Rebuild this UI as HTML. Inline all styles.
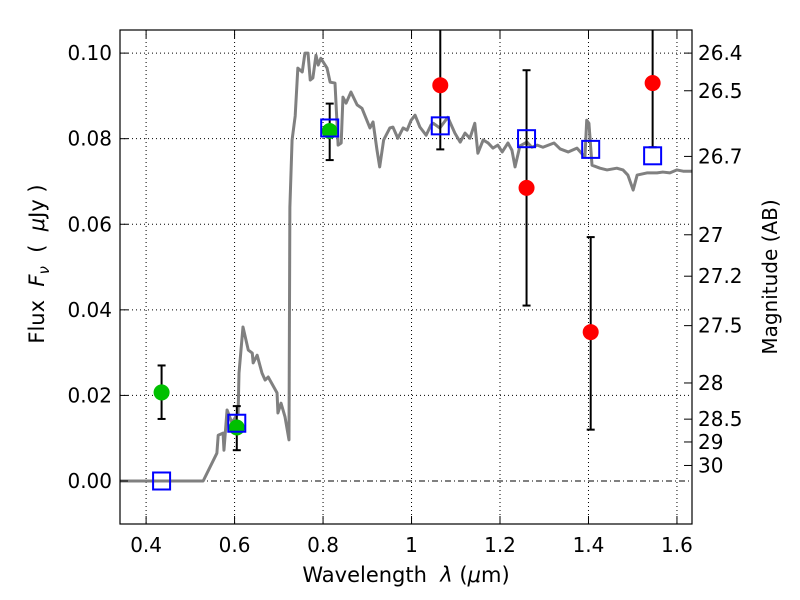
<!DOCTYPE html>
<html><head><meta charset="utf-8"><style>
body{margin:0;background:#fff;}
svg{display:block;font-family:"DejaVu Sans","Liberation Sans",sans-serif;}
</style></head><body>
<svg id="chart" width="800" height="600">
<g id="grid"></g>
<g id="spec"></g>
<g id="marks"></g>
<g id="axes"></g>
<text x="406" y="582" font-size="21" text-anchor="middle">Wavelength&#160;&#160;<tspan font-style="italic">λ</tspan> (<tspan font-style="italic">μ</tspan>m)</text>
<text transform="translate(44,264) rotate(-90)" font-size="21" text-anchor="middle">Flux&#160;&#160;<tspan font-style="italic">F</tspan><tspan font-style="italic" font-size="15" dy="5">ν</tspan><tspan dy="-5">&#160;&#160;(&#160;&#160;</tspan><tspan font-style="italic">μ</tspan>Jy )</text>
<text transform="translate(777,277) rotate(-90)" font-size="20" text-anchor="middle">Magnitude (AB)</text>
</svg>
<script>
const specX=[0.34,0.499,0.529,0.560,0.563,0.574,0.576,0.583,0.594,0.608,0.610,0.619,0.631,0.640,0.642,0.651,0.662,0.669,0.676,0.696,0.698,0.705,0.714,0.723,0.725,0.730,0.737,0.743,0.753,0.759,0.766,0.771,0.777,0.784,0.789,0.795,0.809,0.816,0.827,0.832,0.834,0.841,0.845,0.852,0.863,0.877,0.888,0.899,0.906,0.913,0.922,0.928,0.937,0.951,0.958,0.969,0.981,0.990,0.999,1.008,1.019,1.033,1.044,1.049,1.064,1.082,1.098,1.110,1.121,1.132,1.143,1.150,1.162,1.173,1.184,1.195,1.205,1.218,1.227,1.234,1.245,1.261,1.272,1.284,1.297,1.322,1.336,1.354,1.374,1.392,1.396,1.401,1.408,1.426,1.442,1.464,1.478,1.489,1.501,1.510,1.532,1.555,1.568,1.584,1.600,1.614,1.634];
const specY=[0,0,0,0.0065,0.0107,0.0112,0.0072,0.0166,0.0136,0.0159,0.0252,0.0360,0.0306,0.0299,0.0276,0.0294,0.0252,0.0236,0.0243,0.0206,0.0159,0.0182,0.0150,0.0096,0.0640,0.0797,0.0853,0.0965,0.0956,0.1000,0.1000,0.0937,0.0942,0.0995,0.0972,0.0988,0.0965,0.0932,0.0930,0.0827,0.0785,0.0790,0.0897,0.0883,0.0909,0.0879,0.0871,0.0843,0.0825,0.0839,0.0773,0.0734,0.0797,0.0825,0.0827,0.0801,0.0825,0.0820,0.0843,0.0855,0.0827,0.0808,0.0832,0.0836,0.0825,0.0850,0.0813,0.0792,0.0813,0.0801,0.0836,0.0766,0.0797,0.0790,0.0778,0.0785,0.0769,0.0790,0.0773,0.0734,0.0783,0.0792,0.0780,0.0785,0.0780,0.0790,0.0776,0.0769,0.0778,0.0757,0.0843,0.0836,0.0738,0.0731,0.0727,0.0731,0.0727,0.0715,0.0680,0.0715,0.0720,0.0720,0.0722,0.0720,0.0727,0.0724,0.0724];
const greenX=[0.435,0.605,0.815];
const greenY=[0.0207,0.0125,0.0818];
const greenLo=[0.0145,0.0072,0.0750];
const greenHi=[0.0270,0.0175,0.0882];
const redX=[1.065,1.26,1.405,1.545];
const redY=[0.0925,0.0685,0.0348,0.0930];
const redLo=[0.0775,0.0410,0.0120,0.0780];
const redHi=[0.12,0.0960,0.0570,0.12];
const modelX=[0.435,0.605,0.815,1.065,1.26,1.405,1.545];
const modelY=[0.0,0.0135,0.0825,0.0830,0.0800,0.0775,0.0760];
const xTicks=[0.4,0.6,0.8,1.0,1.2,1.4,1.6];
const xTickLabels=["0.4","0.6","0.8","1","1.2","1.4","1.6"];
const yTicks=[0,0.02,0.04,0.06,0.08,0.10];
const yTickLabels=["0.00","0.02","0.04","0.06","0.08","0.10"];
const magTicks=[26.4,26.5,26.7,27,27.2,27.5,28,28.5,29,30];

const L=120,R=692,T=30,B=524,x0=0.341,x1=1.634,y0=-0.01005,y1=0.1054;
const sx=v=>L+(v-x0)/(x1-x0)*(R-L);
const sy=v=>B-(v-y0)/(y1-y0)*(B-T);
const NS="http://www.w3.org/2000/svg";
function mk(p,tag,at,txt){const e=document.createElementNS(NS,tag);for(const k in at)e.setAttribute(k,at[k]);if(txt!==undefined)e.textContent=txt;p.appendChild(e);return e;}
const grid=document.getElementById('grid'),spec=document.getElementById('spec'),marks=document.getElementById('marks'),axes=document.getElementById('axes');
xTicks.forEach(v=>{const l=mk(grid,'line',{x1:sx(v),x2:sx(v),y1:T,y2:B,stroke:'#000','stroke-width':1,'stroke-dasharray':'1,3'});

});
yTicks.forEach(v=>{const l=mk(grid,'line',{x1:L,x2:R,y1:sy(v),y2:sy(v),stroke:'#000','stroke-width':1,'stroke-dasharray':v===0?'6,3,1,3':'1,3'});

});
const pl=mk(spec,'polyline',{points:specX.map((x,i)=>sx(x)+','+sy(specY[i])).join(' '),fill:'none',stroke:'#808080','stroke-width':3,'stroke-linejoin':'round'});


function err(x,lo,hi){const g=mk(marks,'g',{});


const X=sx(x),a=Math.max(sy(hi),T),b=sy(lo);mk(g,'line',{x1:X,x2:X,y1:a,y2:b,stroke:'#000','stroke-width':2});
if(sy(hi)>=T)mk(g,'line',{x1:X-4,x2:X+4,y1:a,y2:a,stroke:'#000','stroke-width':2});
mk(g,'line',{x1:X-4,x2:X+4,y1:b,y2:b,stroke:'#000','stroke-width':2});}
greenX.forEach((x,i)=>err(x,greenLo[i],greenHi[i]));
redX.forEach((x,i)=>err(x,redLo[i],redHi[i]));
greenX.forEach((x,i)=>{const c=mk(marks,'circle',{cx:sx(x),cy:sy(greenY[i]),r:8,fill:'#00c000'});

});
redX.forEach((x,i)=>{const c=mk(marks,'circle',{cx:sx(x),cy:sy(redY[i]),r:8,fill:'#ff0000'});

});
modelX.forEach((x,i)=>{const r=mk(marks,'rect',{x:sx(x)-8.5,y:sy(modelY[i])-8.5,width:17,height:17,fill:'none',stroke:'#0000ff','stroke-width':2});

});
const fr=mk(axes,'rect',{x:L,y:T,width:R-L,height:B-T,fill:'none',stroke:'#000','stroke-width':1.2});


xTicks.forEach((v,i)=>{mk(axes,'line',{x1:sx(v),x2:sx(v),y1:B,y2:B-8,stroke:'#000'});mk(axes,'line',{x1:sx(v),x2:sx(v),y1:T,y2:T+8,stroke:'#000'});
const t=mk(axes,'text',{x:sx(v),y:B+28,'font-size':20,'text-anchor':'middle'},xTickLabels[i]);

});
yTicks.forEach((v,i)=>{mk(axes,'line',{x1:L,x2:L+8,y1:sy(v),y2:sy(v),stroke:'#000'});
const t=mk(axes,'text',{x:L-8,y:sy(v)+7,'font-size':20,'text-anchor':'end'},yTickLabels[i]);

});
magTicks.forEach(m=>{const f=Math.pow(10,(23.9-m)/2.5);const Y=sy(f);mk(axes,'line',{x1:R,x2:R-8,y1:Y,y2:Y,stroke:'#000'});
const t=mk(axes,'text',{x:R+6,y:Y+7,'font-size':20},String(m));

});
</script>
</body></html>
